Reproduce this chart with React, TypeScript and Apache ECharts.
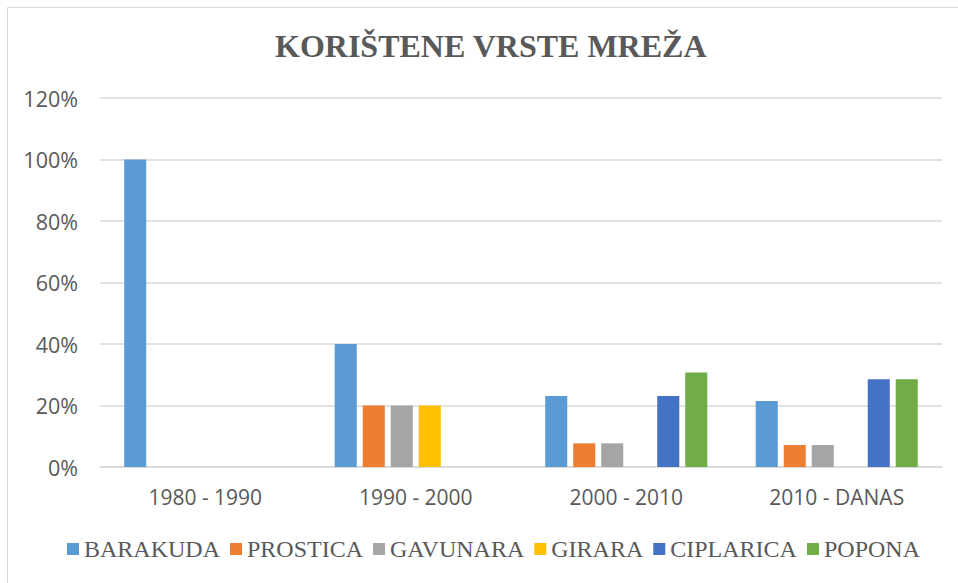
import React, { useEffect, useRef } from "react";
import * as echarts from "echarts";

const categories = ["1980 - 1990", "1990 - 2000", "2000 - 2010", "2010 - DANAS"];
const barakuda = [100, 40, 23.08, 21.43];
const prostica = [0, 20, 7.69, 7.14];
const gavunara = [0, 20, 7.69, 7.14];
const girara = [0, 20, 0, 0];
const ciplarica = [0, 0, 23.08, 28.57];
const popona = [0, 0, 30.77, 28.57];

const seriesDefs = [
  { name: "BARAKUDA", data: barakuda, color: "#5B9BD5" },
  { name: "PROSTICA", data: prostica, color: "#ED7D31" },
  { name: "GAVUNARA", data: gavunara, color: "#A5A5A5" },
  { name: "GIRARA", data: girara, color: "#FFC000" },
  { name: "CIPLARICA", data: ciplarica, color: "#4472C4" },
  { name: "POPONA", data: popona, color: "#70AD47" },
];

export default function App() {
  const ref = useRef<HTMLDivElement>(null);
  useEffect(() => {
    if (!ref.current) return;
    const chart = echarts.init(ref.current, undefined, { renderer: "svg" });
    chart.setOption({
      animation: false,
      backgroundColor: "#ffffff",
      title: {
        text: "KORIŠTENE VRSTE MREŽA",
        left: 275,
        top: 30,
        padding: 0,
        textStyle: {
          fontFamily: "Liberation Serif",
          fontWeight: "bold",
          fontSize: 32,
          color: "#595959",
        },
      },
      graphic: [
        {
          type: "rect",
          shape: { x: 7.5, y: 7.5, width: 960, height: 600 },
          style: { fill: "none", stroke: "#d9d9d9", lineWidth: 1 },
          silent: true,
        },
      ],
      legend: {
        left: 67,
        top: 537,
        padding: 0,
        itemWidth: 12,
        itemHeight: 12,
        itemGap: 10,
        icon: "rect",
        textStyle: {
          fontFamily: "Liberation Serif",
          fontSize: 24,
          color: "#595959",
        },
        data: seriesDefs.map((s) => s.name),
      },
      grid: { left: 100, right: 16, top: 98, bottom: 116, containLabel: false },
      xAxis: {
        type: "category",
        data: categories,
        axisLine: { show: true, lineStyle: { color: "#d9d9d9", width: 1.5 } },
        axisTick: { show: false },
        axisLabel: {
          margin: 19,
          fontFamily: "Open Sans",
          fontSize: 21,
          color: "#595959",
        },
      },
      yAxis: {
        type: "value",
        min: 0,
        max: 120,
        interval: 20,
        axisLine: { show: false },
        axisTick: { show: false },
        splitLine: { lineStyle: { color: "#d9d9d9", width: 1.5 } },
        axisLabel: {
          margin: 22,
          formatter: "{value}%",
          fontFamily: "Open Sans",
          fontSize: 21.5,
          color: "#595959",
        },
      },
      series: seriesDefs.map((s) => ({
        name: s.name,
        type: "bar",
        data: s.data,
        barGap: "27%",
        barCategoryGap: "23%",
        itemStyle: { color: s.color },
      })),
    });
    return () => chart.dispose();
  }, []);
  return <div ref={ref} style={{ width: 958, height: 583, position: "absolute", left: 0, top: 0 }} />;
}
